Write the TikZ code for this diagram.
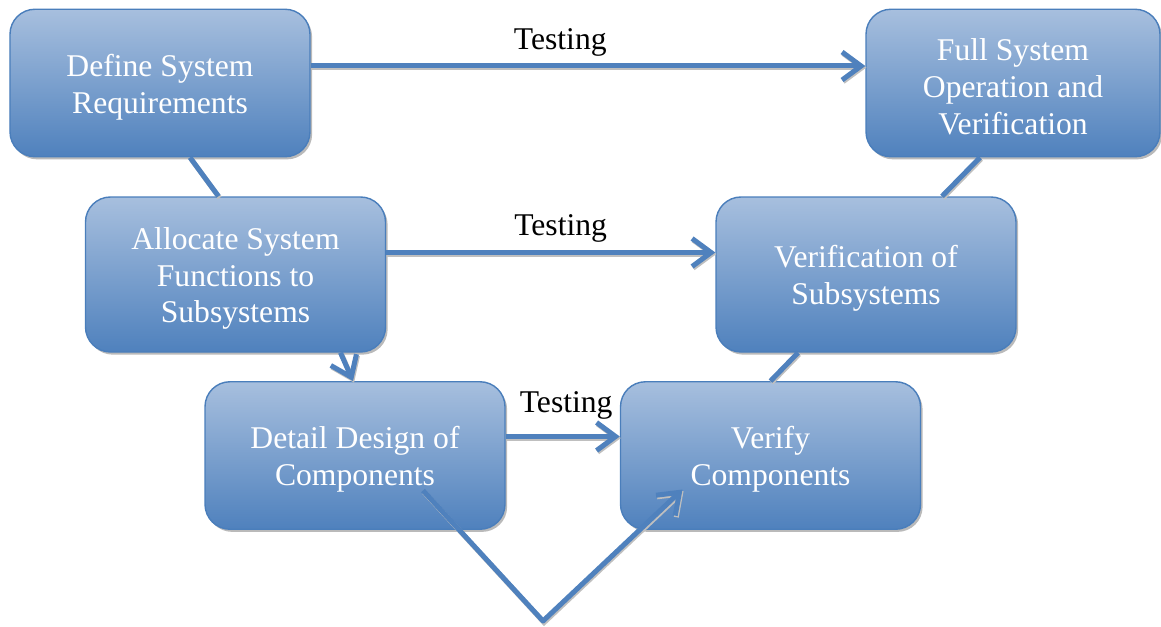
\documentclass[tikz,border=0pt]{standalone}
\usepackage{fontspec}
\setmainfont{Liberation Serif}
\usetikzlibrary{arrows.meta, shadows, calc}

\definecolor{boxtop}{HTML}{A7BFDE}
\definecolor{boxbot}{HTML}{4F81BD}
\definecolor{boxline}{HTML}{4A7EBB}
\definecolor{linkblue}{HTML}{4F81BD}

% pushes the first line of a box down a touch
\newcommand{\firstline}{\rule{0pt}{17pt}}

\begin{document}
\begin{tikzpicture}[
    stage/.style={draw=boxline, line width=0.8pt, rounded corners=0.5cm,
                  top color=boxtop, bottom color=boxbot, text=white,
                  minimum width=6cm, minimum height=2.95cm, align=center,
                  font=\fontsize{18}{21}\selectfont,
                  drop shadow={shadow xshift=1.2pt, shadow yshift=-1.5pt,
                               opacity=0.45, fill=black!60}},
    link/.style={linkblue, line width=0.1cm, line join=round,
                 preaction={draw=black!25, line width=0.1cm,
                            transform canvas={shift={(0.6pt,-0.9pt)}}}},
    myarrow/.style={link, -{Straight Barb[length=0.38cm, width=0.56cm]}},
    testlabel/.style={font=\fontsize{18}{21}\selectfont, text=black,
                      above=1pt},
]
\useasboundingbox (0,0) rectangle (23.22,12.52);

% ===================== LEFT: DESIGN SIDE =====================
\node[stage] (req) at (3.2, 10.86) {\firstline Define System\\Requirements};
\node[stage, minimum height=3.1cm] (alloc) at (4.71, 7.03)
    {\firstline Allocate System\\Functions to\\Subsystems};
\node[stage] (detail) at (7.1, 3.41) {\firstline Detail Design of\\Components};

% ===================== RIGHT: VERIFICATION SIDE =====================
\node[stage, minimum width=5.88cm] (full) at (20.26, 10.86)
    {\firstline Full System\\Operation and\\Verification};
\node[stage, minimum height=3.1cm] (versub) at (17.32, 7.03)
    {\firstline Verification of\\Subsystems};
\node[stage] (vercomp) at (15.41, 3.41) {\firstline Verify\\Components};

% Links down the left leg
\draw[link] ([xshift=0.6cm]req.south) -- ([xshift=-0.34cm]alloc.north);
\draw[myarrow] ([xshift=2.1cm]alloc.south) -- ([xshift=-0.04cm]detail.north);

% Links up the right leg
\draw[link] ([xshift=-1.36cm]versub.south) -- (vercomp.north);
\draw[link] ([xshift=1.52cm]versub.north) -- ([xshift=-0.66cm]full.south);

% Testing arrows
\draw[myarrow] ([yshift=0.34cm]req.east) -- ([yshift=0.34cm]full.west)
    node[testlabel, pos=0.45] {Testing};
\draw[myarrow] ([yshift=0.44cm]alloc.east) -- ([yshift=0.44cm]versub.west)
    node[testlabel, pos=0.53] {Testing};
\draw[myarrow] ([yshift=0.38cm]detail.east) -- ([yshift=0.38cm]vercomp.west)
    node[testlabel, pos=0.53, above=3.8pt] {Testing};

% The V at the bottom
\coordinate (vstart) at ($(detail.center)+(1.36, -0.7)$);
\coordinate (vtip) at (10.86, 0.1);
\coordinate (vend) at ($(vercomp.center)+(-1.76, -0.68)$);
\draw[myarrow] (vstart) -- (vtip) -- (vend);

\end{tikzpicture}
\end{document}
